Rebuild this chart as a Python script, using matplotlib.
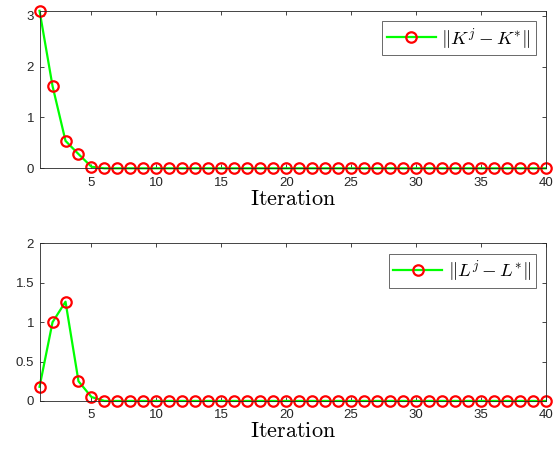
import numpy as np
import matplotlib
matplotlib.use("Agg")
import matplotlib.pyplot as plt

plt.rcParams['mathtext.fontset'] = 'cm'
plt.rcParams['font.family'] = ['Liberation Sans', 'DejaVu Sans']

iterations = list(range(1, 41))
k_err = [3.1, 1.62, 0.54, 0.28, 0.03] + [0.0] * 35
l_err = [0.18, 1.0, 1.26, 0.25, 0.05] + [0.0] * 35
k_label = r'$\Vert K^j - K^{*}\Vert$'
l_label = r'$\Vert L^j - L^{*}\Vert$'
xticks = [5, 10, 15, 20, 25, 30, 35, 40]

fig = plt.figure(figsize=(5.57, 4.5), dpi=100)
ax1 = fig.add_axes([0.071, 0.626, 0.909, 0.350])
ax2 = fig.add_axes([0.071, 0.109, 0.909, 0.350])

tick_color = '#262626'
for ax, data, lab, ylim, yticks, yticklabels in [
    (ax1, k_err, k_label, (0, 3.1), [0, 1, 2, 3], ['0', '1', '2', '3']),
    (ax2, l_err, l_label, (0, 2), [0, 0.5, 1, 1.5, 2], ['0', '0.5', '1', '1.5', '2'])]:
    ax.plot(iterations, data, color=(0, 1, 0), lw=1.6, marker='o', ms=7.5,
            mfc='none', mec='red', mew=1.6, label=lab, clip_on=False)
    ax.set_xlim(1, 40)
    ax.set_ylim(*ylim)
    ax.set_xticks(xticks)
    ax.set_yticks(yticks)
    ax.set_yticklabels(yticklabels)
    ax.tick_params(direction='in', top=True, right=True, labelsize=9.5,
                   colors=tick_color, length=3, width=0.6)
    ax.tick_params(axis='x', pad=6)
    ax.tick_params(axis='y', pad=4)
    for s in ax.spines.values():
        s.set_color(tick_color)
        s.set_linewidth(0.6)
    ax.set_xlabel(r'$\mathrm{Iteration}$', fontsize=16, labelpad=0)
    leg = ax.legend(loc='upper right', fontsize=13.5, frameon=True, fancybox=False,
                    edgecolor=tick_color, handlelength=2.6, borderpad=0.25,
                    handletextpad=0.3, borderaxespad=0.55)
    leg.get_frame().set_linewidth(0.6)

fig.savefig('out.png', dpi=100)
